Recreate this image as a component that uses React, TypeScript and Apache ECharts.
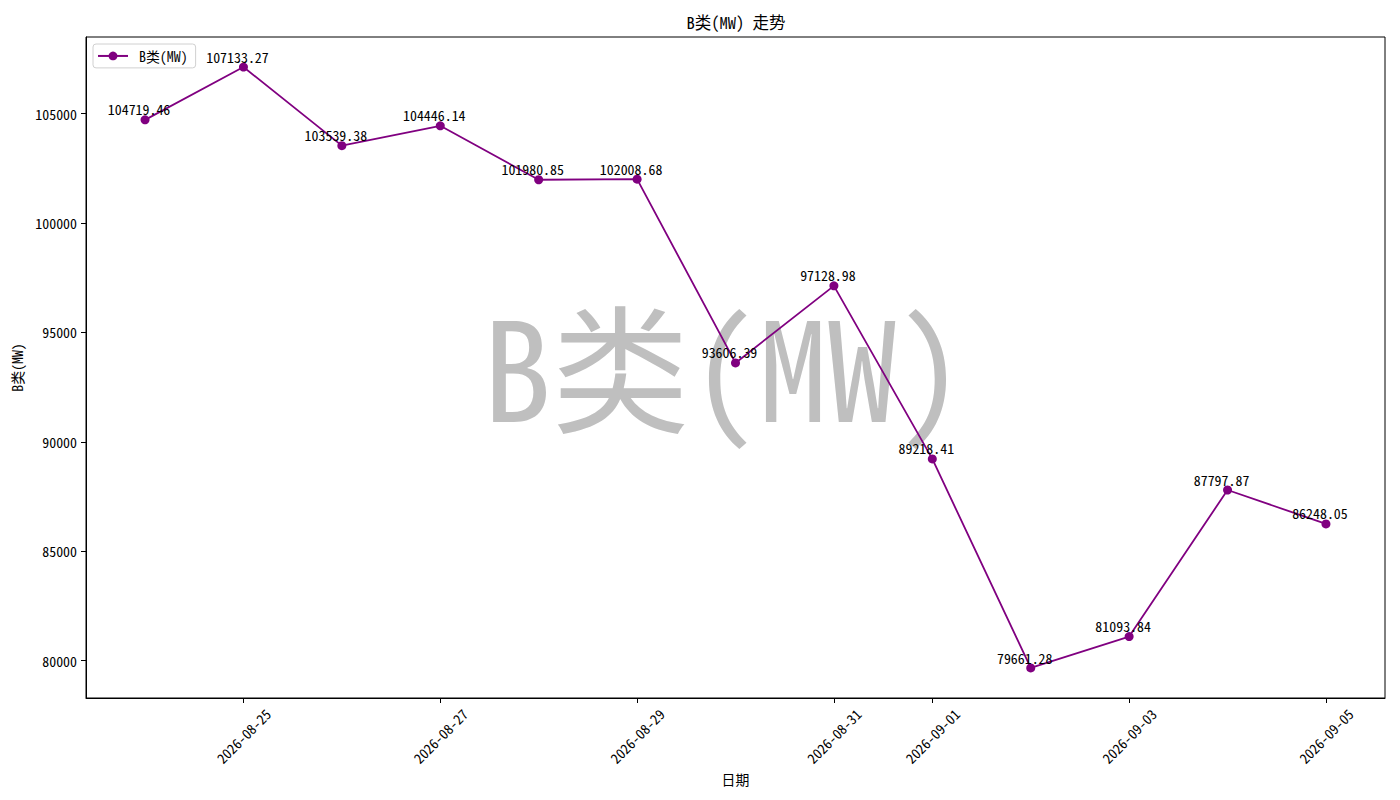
import { useEffect, useRef } from 'react';
import * as echarts from 'echarts';

const DATES = [
  '2026-08-24', '2026-08-25', '2026-08-26', '2026-08-27', '2026-08-28',
  '2026-08-29', '2026-08-30', '2026-08-31', '2026-09-01', '2026-09-02',
  '2026-09-03', '2026-09-04', '2026-09-05',
];
const VALUES = [
  104719.46, 107133.27, 103539.38, 104446.14, 101980.85,
  102008.68, 93606.39, 97128.98, 89218.41, 79661.28,
  81093.84, 87797.87, 86248.05,
];
// dates matplotlib put a tick on
const X_TICKS = [1, 3, 5, 7, 8, 10, 12];
const Y_TICKS = [80000, 85000, 90000, 95000, 100000, 105000];

const SERIES_NAME = 'B类(MW)';
const COLOR = '#800080';
// half-width latin like SimHei, falls back to the proportional CJK face
const FONT = '"Noto Sans Mono CJK SC", "Noto Sans CJK SC", "DejaVu Sans Mono", sans-serif';

export default function App() {
  const ref = useRef<HTMLDivElement>(null);

  useEffect(() => {
    if (!ref.current) return;
    const chart = echarts.init(ref.current, null, { renderer: 'svg' });

    const lo = Math.min(...VALUES);
    const hi = Math.max(...VALUES);
    const pad = (hi - lo) * 0.05;
    const n = DATES.length - 1;

    chart.setOption({
      animation: false,
      backgroundColor: '#fff',
      textStyle: { fontFamily: FONT },
      title: {
        text: 'B类(MW) 走势',
        left: 731,
        top: 9,
        textAlign: 'center',
        textStyle: { fontSize: 16.5, fontWeight: 'normal', color: '#000', fontFamily: FONT },
      },
      legend: {
        left: 93,
        top: 44,
        padding: [5, 8, 5, 4],
        itemWidth: 30,
        itemHeight: 11,
        borderColor: '#d0d0d0',
        borderWidth: 1,
        borderRadius: 3,
        textStyle: { fontSize: 13.9, color: '#000', fontFamily: FONT, padding: [0, 0, 0, 6] },
        data: [SERIES_NAME],
      },
      grid: {
        left: 86,
        right: 15,
        top: 37,
        bottom: 102,
        show: true,
        borderColor: '#000',
        borderWidth: 1,
        outerBoundsMode: 'none',
      },
      xAxis: {
        type: 'value',
        min: -0.05 * n,
        max: n * 1.05,
        name: '日期',
        nameLocation: 'middle',
        nameGap: 74,
        nameTextStyle: { fontSize: 13.9, color: '#000' },
        axisLine: { onZero: false, lineStyle: { color: '#000', width: 1 } },
        axisTick: { length: 5, lineStyle: { color: '#000' }, customValues: X_TICKS },
        axisLabel: {
          customValues: X_TICKS,
          rotate: 45,
          align: 'center',
          verticalAlign: 'middle',
          fontSize: 13.9,
          color: '#000',
          margin: 38,
          formatter: (v: number) => DATES[Math.round(v)] ?? '',
        },
        splitLine: { show: false },
      },
      yAxis: {
        type: 'value',
        min: lo - pad,
        max: hi + pad,
        name: 'B类(MW)',
        nameLocation: 'middle',
        nameGap: 60,
        nameTextStyle: { fontSize: 13.9, color: '#000' },
        axisLine: { show: true, onZero: false, lineStyle: { color: '#000', width: 1 } },
        axisTick: { show: true, length: 5, lineStyle: { color: '#000' }, customValues: Y_TICKS },
        axisLabel: {
          customValues: Y_TICKS,
          fontSize: 13.9,
          color: '#000',
          margin: 9,
          formatter: (v: number) => String(v),
        },
        splitLine: { show: false },
      },
      graphic: [
        {
          type: 'text',
          z: -10,
          x: 724,
          y: 362,
          style: {
            text: 'B类(MW)',
            fontSize: 138,
            fontFamily: FONT,
            fill: '#bfbfbf',
            align: 'center',
            verticalAlign: 'middle',
          },
        },
      ],
      series: [
        {
          name: SERIES_NAME,
          type: 'line',
          data: VALUES.map((v, i) => [i, v]),
          symbol: 'circle',
          symbolSize: 9,
          z: 5,
          itemStyle: { color: COLOR },
          lineStyle: { color: COLOR, width: 1.8 },
          label: {
            show: true,
            position: 'top',
            distance: 0,
            offset: [-6, 1],
            fontSize: 13.9,
            color: '#000',
            formatter: (p: any) => p.value[1].toFixed(2),
          },
          emphasis: { disabled: true },
        },
      ],
    });

    return () => chart.dispose();
  }, []);

  return (
    <div
      ref={ref}
      style={{ position: 'absolute', left: 0, top: 0, width: 1400, height: 800 }}
    />
  );
}
